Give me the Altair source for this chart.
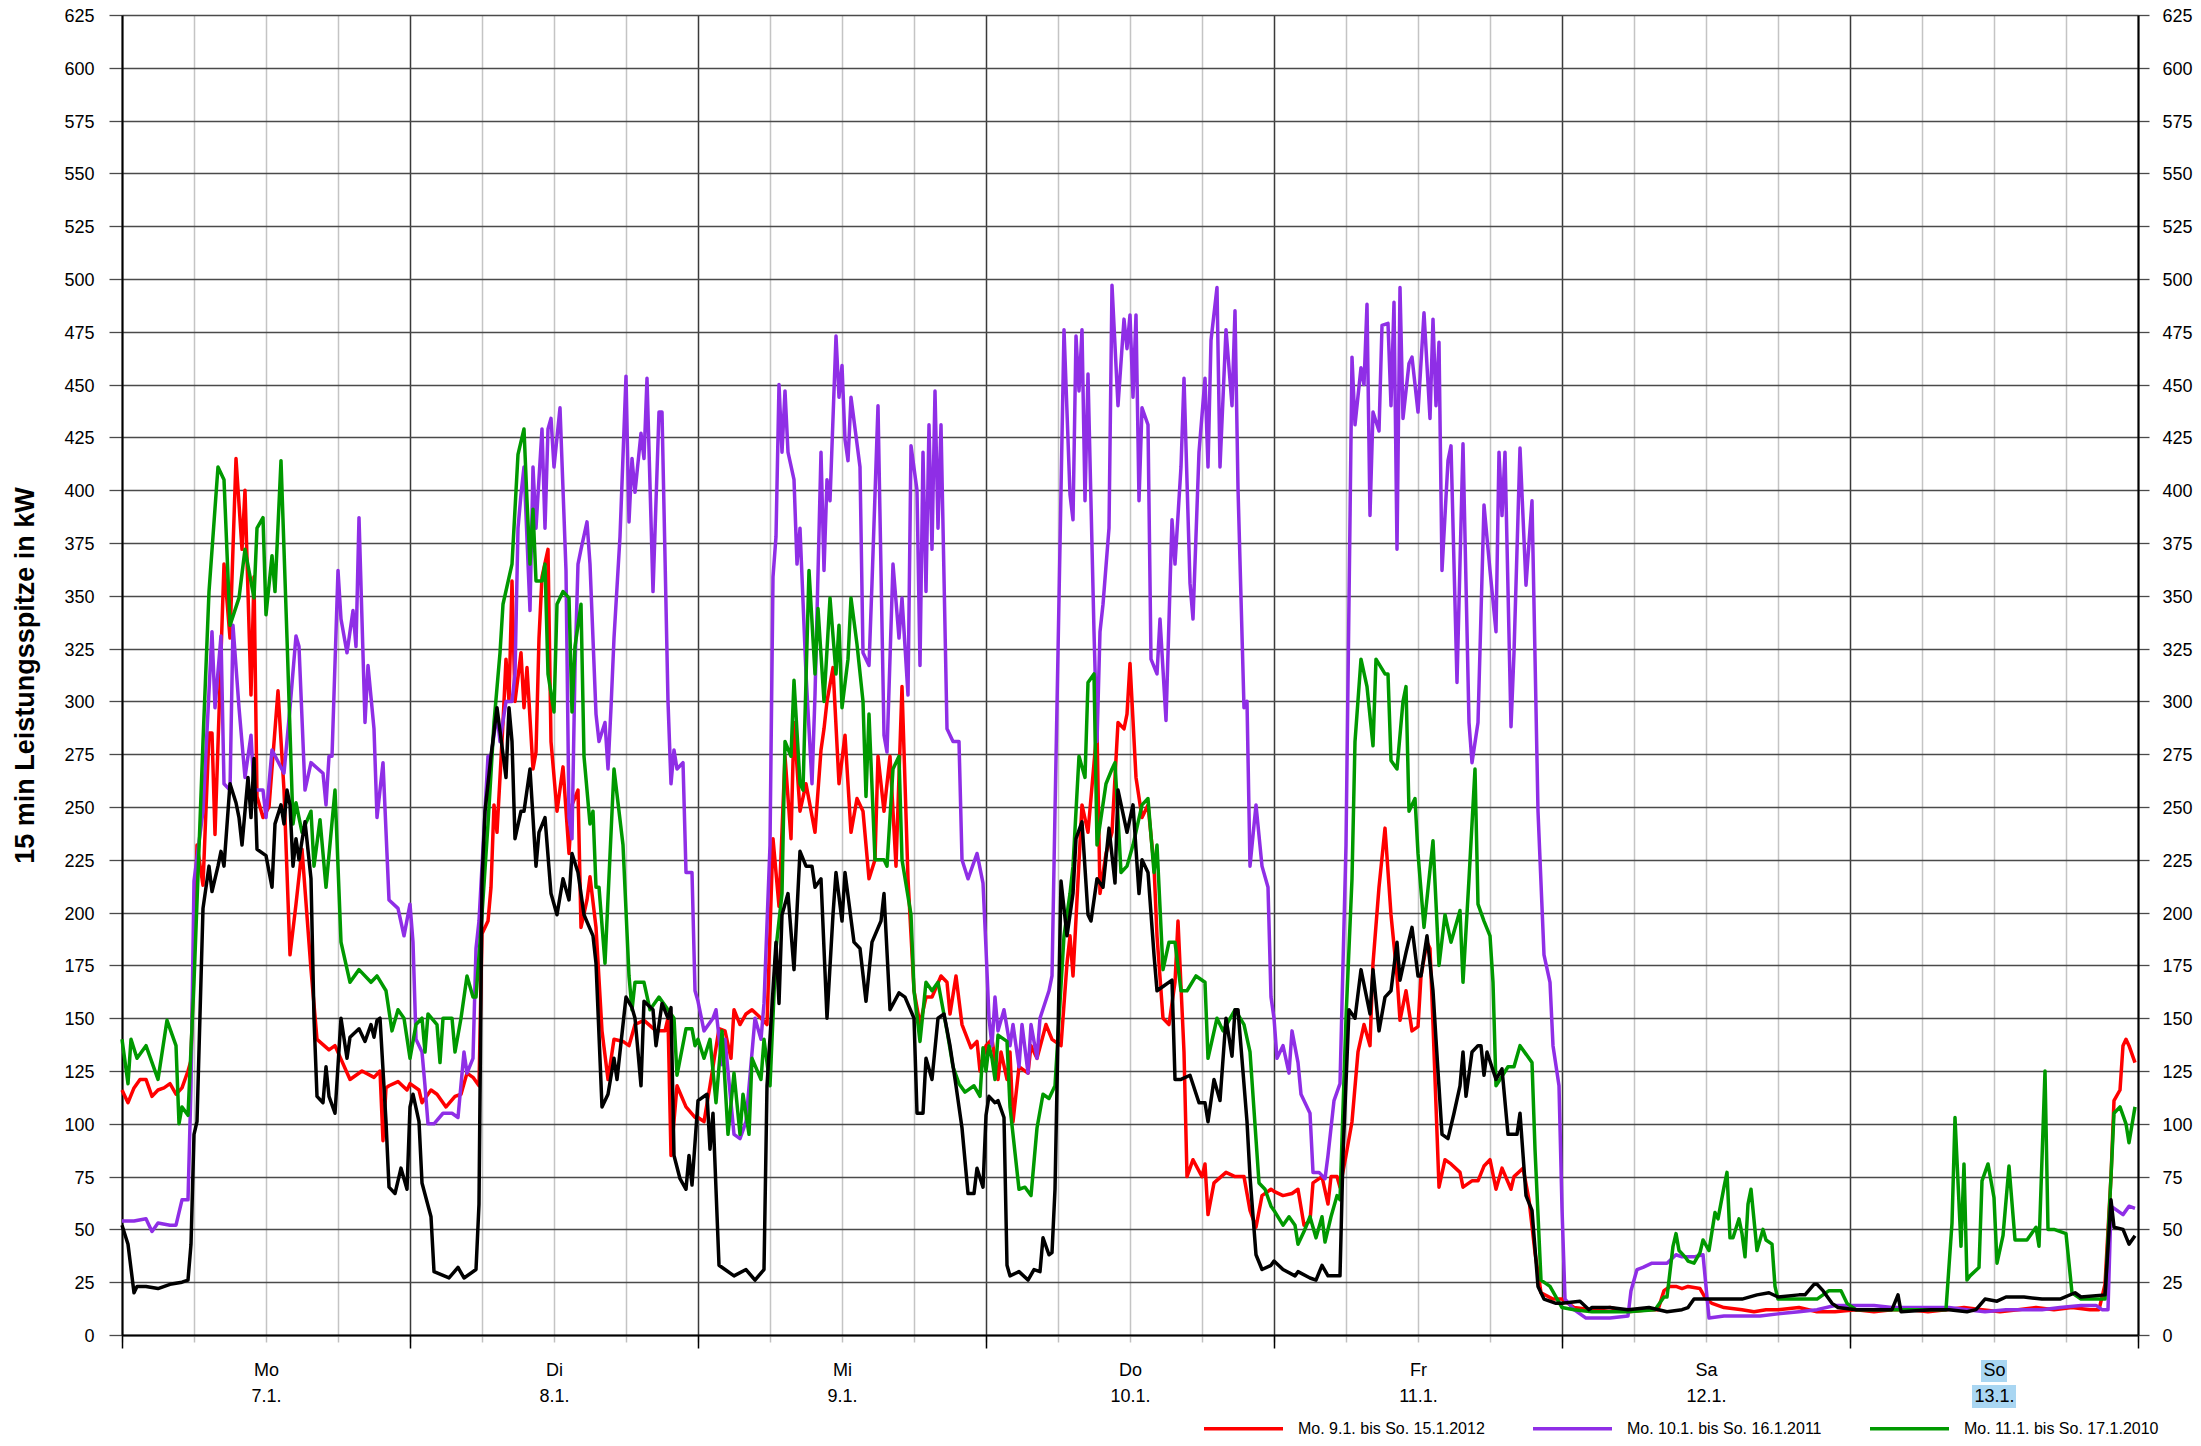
import json
import altair as alt
import pandas as pd

# ---------------- data: readings as (hour of day, kW) per day, Mo ... So ----------------
day_names = ["Mo", "Di", "Mi", "Do", "Fr", "Sa", "So"]
day_dates = ["7.1.", "8.1.", "9.1.", "10.1.", "11.1.", "12.1.", "13.1."]
highlight_day = 6

series_names = [
    "Mo. 9.1. bis So. 15.1.2012",
    "Mo. 10.1. bis So. 16.1.2011",
    "Mo. 11.1. bis So. 17.1.2010",
    "Mo. 7.1. bis So. 13.1.2013",
]
series_colors = ["#ff0000", "#8f2ee6", "#009900", "#000000"]

red_2012 = [
    [(0,116),(0.5,110),(1,117),(1.5,121),(2,121),(2.5,113),(3,116),(3.5,117),(4,119),(4.5,114),(5,117),(5.5,125),(5.75,130),(6.25,232),(6.75,213),(7.25,285),(7.5,285),(7.75,237),(8.5,365),(9,330),(9.5,415),(10,372),(10.25,400),(10.75,303),(11,359),(11.25,255),(11.75,245),(12.25,250),(13,305),(13.5,258),(14,180),(14.5,204),(15,230),(15.75,173),(16.25,140),(17.25,135),(17.75,137),(19,121),(20,125),(21,122),(21.5,125),(21.75,92),(22,117),(22.25,118),(23,120),(23.75,116)],
    [(0,119),(0.75,116),(1,110),(1.75,116),(2.25,114),(3,108),(3.75,113),(4.25,114),(4.75,124),(5.25,122),(5.75,118),(6,190),(6.5,196),(6.75,212),(7,251),(7.25,238),(7.75,290),(8,320),(8.25,300),(8.5,357),(8.75,300),(9.25,323),(9.5,297),(9.75,316),(10.25,268),(10.5,276),(10.75,330),(11,359),(11.5,372),(11.75,281),(12.25,248),(12.75,269),(13.25,228),(13.5,251),(14,258),(14.25,193),(14.75,206),(15,217),(15.5,193),(16,144),(16.5,121),(17,140),(17.75,139),(18.25,137),(18.75,147),(19.5,149),(20.5,144),(21.25,144),(21.5,150),(21.75,85),(22.25,118),(23,108),(23.75,103)],
    [(0,103),(0.5,101),(1,118),(1.75,145),(2.25,144),(2.75,131),(3,154),(3.5,147),(4,152),(4.5,154),(5.25,150),(5.75,147),(6.25,235),(6.75,203),(7.25,274),(7.75,235),(8,290),(8.5,248),(9,261),(9.75,238),(10.25,277),(10.5,287),(10.75,300),(11.25,316),(11.75,261),(12.25,284),(12.75,238),(13.25,254),(13.75,248),(14.25,216),(14.75,225),(15,274),(15.5,248),(16,274),(16.5,222),(17,307),(17.5,216),(18,163),(18.5,147),(19,160),(19.5,160),(20.25,170),(20.75,167),(21,152),(21.5,170),(22,147),(22.75,136),(23.25,139),(23.5,125)],
    [(0,137),(0.5,140),(1,121),(1.25,134),(1.75,121),(2,134),(2.25,101),(2.75,127),(3.5,124),(3.75,137),(4.25,131),(5,147),(5.5,140),(6.25,137),(6.75,176),(7,189),(7.25,170),(8,251),(8.5,238),(9.25,287),(9.5,209),(10,228),(10.5,238),(11,290),(11.5,287),(11.75,294),(12,318),(12.5,264),(13,245),(13.5,251),(14,222),(14.25,189),(14.75,150),(15.25,147),(15.75,167),(16,196),(16.5,134),(16.75,75),(17.25,83),(18,75),(18.25,81),(18.5,57),(19,72),(20,77),(20.75,75),(21.5,75),(22,59),(22.5,51),(23,66),(23.75,69)],
    [(0,68),(0.75,66),(1.5,67),(2,69),(2.5,52),(3,54),(3.25,72),(4,75),(4.5,62),(4.75,75),(5.25,75),(5.5,70),(6,85),(6.5,101),(7,134),(7.5,147),(8,137),(8.25,176),(8.75,212),(9.25,240),(9.75,199),(10.25,170),(10.5,149),(11,163),(11.5,144),(12,146),(12.25,170),(12.75,186),(13,183),(13.25,147),(13.75,70),(14.25,83),(14.75,81),(15.5,77),(15.75,70),(16.5,73),(17,73),(17.5,80),(18,83),(18.5,69),(19,79),(19.75,69),(20,75),(20.75,79),(21.25,64),(21.75,39),(22.25,20),(23.25,17)],
    [(0,17),(1,13),(2.5,12),(4,13),(5.5,11),(7.25,12),(8,12),(8.5,21),(9,23),(9.5,23),(10,22),(10.5,23),(11.5,22),(12,17),(12.5,15),(13.5,13),(15,12),(16,11),(17,12),(18,12),(19.75,13),(21.25,11),(22.75,11)],
    [(0.5,12),(2,11),(3.5,12),(5,12),(6.5,11),(8,12),(9.5,13),(11,12),(12.5,11),(14,12),(15.5,13),(17,12),(18.5,13),(20,12),(20.75,12),(21.25,24),(21.75,75),(22,111),(22.5,116),(22.75,137),(23,140),(23.25,137),(23.75,129)],
]
purple_2011 = [
    [(0,54),(1,54),(2,55),(2.25,52),(2.5,49),(3,53),(4,52),(4.5,52),(5,64),(5.5,64),(5.75,118),(6,215),(6.75,248),(7.5,333),(7.75,297),(8.25,331),(8.5,261),(9,258),(9.25,336),(9.75,297),(10.25,264),(10.75,284),(11,258),(11.75,258),(12,245),(12.5,277),(13.5,266),(14,297),(14.5,331),(14.75,326),(15.25,258),(15.75,271),(16.75,266),(17,251),(17.25,274),(17.5,274),(18,362),(18.25,339),(18.75,323),(19.25,343),(19.5,326),(19.75,387),(20.25,290),(20.5,317),(21,287),(21.25,245),(21.75,271),(22.25,206),(23,202),(23.5,189)],
    [(0,204),(0.25,186),(0.5,140),(1,134),(1.25,118),(1.5,100),(2,100),(2.75,105),(3.5,105),(4,103),(4.5,134),(4.75,124),(5.25,131),(5.5,183),(5.75,196),(6.5,274),(6.75,274),(7.25,294),(7.5,281),(8,300),(8.5,300),(8.75,313),(9,382),(9.25,398),(9.5,411),(10,343),(10.25,411),(10.5,382),(11,429),(11.25,382),(11.5,429),(11.75,434),(12,411),(12.5,439),(13,362),(13.25,245),(13.5,235),(13.75,316),(14,365),(14.25,372),(14.75,385),(15,365),(15.5,294),(15.75,281),(16.25,290),(16.5,268),(16.75,297),(17,330),(17.5,378),(18,454),(18.25,385),(18.5,415),(18.75,399),(19.25,427),(19.5,415),(19.75,453),(20.25,352),(20.75,437),(21,437),(21.5,300),(21.75,261),(22,277),(22.25,268),(22.75,271),(23,219),(23.5,219),(23.75,163)],
    [(0,158),(0.5,144),(1.25,150),(1.5,154),(2,128),(2.25,140),(3,95),(3.5,93),(4,101),(4.75,150),(5.25,140),(5.5,157),(6,232),(6.25,359),(6.5,378),(6.75,450),(7,418),(7.25,447),(7.5,418),(8,405),(8.25,365),(8.5,382),(9,313),(9.5,261),(9.75,303),(10.25,418),(10.5,362),(10.75,405),(11,395),(11.5,473),(11.75,444),(12,459),(12.25,424),(12.5,414),(12.75,444),(13.5,411),(13.75,323),(14.25,317),(14.5,356),(15,440),(15.5,284),(15.75,276),(16.25,365),(16.75,330),(17,349),(17.5,303),(17.75,421),(18.25,400),(18.5,317),(18.75,418),(19,352),(19.25,431),(19.5,372),(19.75,447),(20,382),(20.25,431),(20.75,287),(21.25,281),(21.75,281),(22,225),(22.5,216),(23.25,228),(23.75,214)],
    [(0,183),(0.25,150),(0.5,137),(0.75,160),(1,144),(1.5,154),(2,137),(2.25,147),(2.75,127),(3,147),(3.5,124),(3.75,147),(4.25,131),(4.5,150),(5.25,163),(5.5,170),(5.75,248),(6,323),(6.5,476),(7,398),(7.25,386),(7.5,473),(7.75,447),(8,476),(8.25,395),(8.5,455),(9,333),(9.25,281),(9.5,333),(9.75,346),(10.25,382),(10.5,497),(11,440),(11.5,481),(11.75,467),(12,483),(12.25,444),(12.5,483),(12.75,395),(13,439),(13.5,431),(13.75,320),(14.25,313),(14.5,339),(15,291),(15.5,386),(15.75,365),(16.25,411),(16.5,453),(17,356),(17.25,339),(17.75,418),(18.25,453),(18.5,411),(18.75,471),(19.25,496),(19.5,411),(20,476),(20.5,440),(20.75,485),(21,401),(21.5,297),(21.75,300),(22,222),(22.5,251),(23,222),(23.5,212),(23.75,160)],
    [(0,150),(0.25,131),(0.75,137),(1.25,124),(1.5,144),(2,129),(2.25,114),(3,105),(3.25,77),(3.75,77),(4.25,74),(4.5,85),(5,111),(5.5,119),(6,232),(6.5,463),(6.75,431),(7.25,458),(7.5,450),(7.75,488),(8,388),(8.25,437),(8.75,428),(9,478),(9.5,479),(9.75,440),(10,489),(10.25,372),(10.5,496),(10.75,434),(11.25,460),(11.5,463),(12,437),(12.5,484),(13,434),(13.25,481),(13.5,440),(13.75,470),(14,362),(14.5,414),(14.75,421),(15.25,309),(15.75,422),(16.25,290),(16.5,271),(17,290),(17.5,393),(18,362),(18.5,333),(18.75,418),(19,388),(19.25,418),(19.75,288),(20,323),(20.5,420),(21,355),(21.5,395),(22,248),(22.5,180),(23,167),(23.25,137),(23.75,118)],
    [(0,60),(0.25,17),(1,12),(2,8),(4,8),(5.5,9),(5.75,21),(6.25,31),(6.75,32),(7.5,34),(8.75,34),(9.5,38),(10,37),(11,37),(11.75,38),(12.25,8),(13.5,9),(15,9),(16.5,9),(18,10),(19.75,11),(21.25,12),(22.75,14)],
    [(0.5,14),(2,14),(3.5,13),(5,13),(6.75,13),(8.25,13),(9.75,12),(11.25,11),(13,12),(16,12),(17.5,13),(19.25,14),(20.5,14),(21,12),(21.5,12),(21.75,61),(22.25,59),(22.75,57),(23.25,61),(23.75,60)],
]
green_2010 = [
    [(0,140),(0.5,119),(0.75,140),(1.25,131),(2,137),(3,121),(3.75,149),(4.5,137),(4.75,100),(5,108),(5.5,104),(6,167),(6.75,281),(7.25,352),(8,411),(8.5,405),(9,336),(9.75,349),(10.25,372),(11,349),(11.25,382),(11.75,387),(12,341),(12.5,369),(12.75,352),(13.25,414),(13.75,330),(14.25,242),(14.5,252),(15,238),(15.75,248),(16,222),(16.5,244),(17,212),(17.75,258),(18.25,186),(19,167),(19.75,173),(20.75,167),(21.25,170),(22,163),(22.5,144),(23,154),(23.5,150)],
    [(0,131),(0.5,147),(1,150),(1.25,134),(1.5,152),(2.25,147),(2.5,129),(2.75,150),(3.5,150),(3.75,134),(4.25,150),(4.75,170),(5.25,160),(5.5,160),(6,199),(6.5,242),(7,290),(7.5,323),(7.75,346),(8.5,365),(9,417),(9.5,429),(9.75,395),(10,365),(10.25,391),(10.5,357),(11,357),(11.25,365),(11.5,313),(12,295),(12.25,346),(12.75,352),(13.25,349),(13.5,295),(13.75,326),(14.25,346),(14.5,274),(15,242),(15.25,248),(15.5,212),(15.75,212),(16.25,176),(17,268),(17.75,232),(18.25,170),(18.5,154),(18.75,167),(19.5,167),(20,154),(20.75,160),(21.5,154),(22,150),(22.25,123),(23,145),(23.5,145),(23.75,137)],
    [(0,140),(0.5,131),(1,140),(1.5,110),(2,144),(2.5,95),(3,124),(3.5,95),(3.75,114),(4.25,95),(4.5,131),(5.25,121),(5.5,140),(6,118),(6.5,183),(7,209),(7.25,281),(7.75,274),(8,310),(8.5,261),(8.75,258),(9.25,362),(9.75,313),(10,344),(10.5,300),(11,349),(11.5,313),(11.75,336),(12,297),(12.5,320),(12.75,349),(13.25,327),(13.75,300),(14,255),(14.25,294),(14.75,225),(15.5,225),(15.75,222),(16.25,268),(16.75,274),(17,225),(17.75,199),(18,163),(18.5,139),(19,167),(19.5,163),(20,167),(20.75,144),(21.25,127),(21.75,119),(22.25,115),(23,118),(23.5,113),(23.75,136)],
    [(0,125),(0.25,137),(0.5,131),(0.75,121),(1,142),(1.75,139),(2,108),(2.75,69),(3.25,70),(3.75,66),(4.25,98),(4.75,114),(5.25,112),(5.75,118),(6.5,189),(7,209),(7.25,222),(7.75,274),(8.25,264),(8.5,309),(9,313),(9.25,232),(10,261),(10.5,268),(10.75,271),(11.25,219),(11.75,222),(12.25,232),(13,251),(13.5,254),(14,219),(14.25,232),(14.75,173),(15.25,186),(15.75,186),(16.25,163),(16.75,163),(17.5,170),(18.25,167),(18.5,131),(19.25,150),(19.75,144),(20.75,154),(21.5,147),(22,134),(22.75,72),(23.25,69),(23.75,61)],
    [(0,59),(0.75,52),(1.25,56),(1.75,52),(2,43),(2.5,49),(3,56),(3.5,46),(4,56),(4.25,44),(4.75,56),(5.25,66),(5.5,64),(6,150),(6.5,216),(6.75,281),(7.25,320),(7.75,307),(8.25,279),(8.5,320),(9.25,313),(9.5,313),(9.75,272),(10.25,268),(10.75,300),(11,307),(11.25,248),(11.75,254),(12,228),(12.5,193),(13.25,234),(13.75,175),(14.25,199),(14.75,186),(15.5,201),(15.75,167),(16.25,216),(16.75,268),(17,204),(17.5,196),(18,189),(18.25,167),(18.5,118),(19.5,127),(20,127),(20.5,137),(21.5,129),(21.75,88),(22.25,26),(23,23)],
    [(0,13),(1,12),(2.5,11),(5.5,11),(7.75,12),(8.5,18),(8.75,18),(9.25,42),(9.5,48),(9.75,40),(10.25,37),(10.5,35),(11,34),(11.5,39),(11.75,45),(12.25,40),(12.75,58),(13,55),(13.5,70),(13.75,77),(14,46),(14.25,46),(14.75,55),(15,48),(15.25,37),(15.5,62),(15.75,69),(16.25,40),(16.75,50),(17,45),(17.5,43),(17.75,23),(18,17),(19.75,17),(21.25,17),(22.25,21),(23.25,21),(23.75,15)],
    [(0.5,12),(3,12),(6,12),(8,12),(8.5,53),(8.75,103),(9.25,42),(9.5,81),(9.75,26),(10,28),(10.75,32),(11,73),(11.5,81),(12,65),(12.25,34),(12.75,47),(13.25,80),(13.75,45),(14.75,45),(15.5,51),(15.75,42),(16.25,125),(16.5,50),(17,50),(18,48),(18.5,20),(19.25,17),(21.25,17),(21.75,75),(22,105),(22.5,108),(23,100),(23.25,91),(23.75,108)],
]
black_2013 = [
    [(0,52),(0.5,43),(1,20),(1.25,23),(2,23),(3,22),(4,24),(5,25),(5.5,26),(5.75,43),(6,95),(6.25,101),(6.75,202),(7.25,222),(7.5,210),(8,222),(8.25,229),(8.5,222),(9,261),(9.5,252),(9.75,245),(10,232),(10.5,264),(10.75,245),(11,273),(11.25,230),(12,227),(12.5,212),(12.75,242),(13.25,251),(13.5,242),(13.75,258),(14,251),(14.25,222),(14.5,235),(14.75,225),(15.25,243),(15.75,216),(16,150),(16.25,113),(16.75,110),(17,127),(17.25,113),(17.75,105),(18.25,150),(18.75,131),(19,141),(19.75,145),(20.25,139),(20.75,147),(21,141),(21.25,149),(21.5,150),(22,101),(22.25,70),(22.75,67),(23.25,79),(23.75,69)],
    [(0,108),(0.25,114),(0.75,101),(1,72),(1.75,56),(2,30),(3.25,27),(4,32),(4.5,27),(5.5,31),(5.75,62),(6,215),(6.25,248),(6.75,274),(7.25,297),(7.5,286),(8,264),(8.25,297),(8.5,281),(8.75,235),(9.25,248),(9.5,248),(10,268),(10.5,222),(10.75,238),(11.25,245),(11.75,209),(12.25,199),(12.75,216),(13.25,206),(13.5,228),(14,219),(14.5,199),(15.25,189),(15.5,176),(16,108),(16.5,114),(17,131),(17.25,121),(18,160),(18.5,155),(18.75,150),(19.25,118),(19.5,158),(20.25,154),(20.5,137),(21,157),(21.5,150),(21.75,155),(22,85),(22.5,74),(23,69),(23.25,85),(23.5,71)],
    [(0,111),(0.75,114),(1,88),(1.25,105),(1.75,33),(2.25,31),(3,28),(4,31),(4.75,26),(5.5,31),(5.75,118),(6.5,186),(6.75,157),(7,199),(7.5,209),(8,173),(8.5,229),(9,222),(9.5,222),(9.75,212),(10.25,216),(10.75,150),(11.25,199),(11.5,219),(12,196),(12.25,219),(13,186),(13.5,183),(14,158),(14.5,186),(15.25,196),(15.5,209),(16,154),(16.75,162),(17.25,160),(18,150),(18.25,105),(18.75,105),(19,131),(19.5,121),(20,150),(20.5,152),(21,137),(21.5,118),(22,98),(22.5,67),(23,67),(23.25,79),(23.75,70)],
    [(0,104),(0.25,113),(0.75,110),(1,111),(1.5,103),(1.75,33),(2,28),(2.75,30),(3.5,26),(4,31),(4.5,30),(4.75,46),(5.25,38),(5.5,39),(5.75,69),(6.25,215),(6.75,189),(7.25,209),(7.5,235),(8,243),(8.5,199),(8.75,196),(9.25,216),(9.75,212),(10.25,240),(10.75,214),(11,258),(11.75,238),(12.25,251),(12.75,209),(13,225),(13.5,219),(14,180),(14.25,163),(14.75,165),(15.5,168),(15.75,121),(16.25,121),(17,123),(17.75,110),(18.25,110),(18.5,101),(19,121),(19.5,111),(20,150),(20.5,132),(20.75,154),(21,154),(21.75,101),(22,75),(22.5,38),(23,31),(23.75,33)],
    [(0,35),(0.75,31),(1.75,28),(2,30),(3,27),(3.5,26),(4,33),(4.5,28),(5.5,28),(5.75,85),(6.25,154),(6.75,150),(7.25,173),(8,152),(8.25,173),(8.75,144),(9.25,160),(9.75,163),(10.25,186),(10.5,168),(11,181),(11.5,193),(12,170),(12.25,170),(12.75,189),(13.25,163),(13.5,140),(14,95),(14.5,93),(15,105),(15.5,118),(15.75,134),(16,113),(16.5,134),(17,137),(17.25,137),(17.5,123),(17.75,134),(18.5,121),(19,126),(19.5,95),(20.25,95),(20.5,105),(21,66),(21.5,59),(22,23),(22.5,17),(23.5,15)],
    [(0,15),(1.5,16),(2.25,12),(2.5,13),(4,13),(5.5,12),(7.25,13),(8.75,11),(10,12),(10.5,13),(11,17),(12,17),(13,17),(13.75,17),(15,17),(16.25,19),(17.25,20),(18,18),(19.75,19),(20.25,19),(21,24),(21.25,24),(21.75,21),(22.5,15),(23,13)],
    [(0.5,12),(2,12),(3.5,12),(4,19),(4.25,11),(6.75,12),(8.25,12),(9.75,11),(10.5,12),(11.25,17),(12.25,16),(13,18),(14.5,18),(16,17),(17.5,17),(18.75,20),(19.25,18),(21.25,19),(21.75,64),(22,51),(22.75,50),(23.25,43),(23.75,47)],
]

all_series = [red_2012, purple_2011, green_2010, black_2013]
rows = []
for name, days in zip(series_names, all_series):
    for d, readings in enumerate(days):
        for h, v in readings:
            rows.append({"hour": d * 24 + h, "value": v, "series": name})
df = pd.DataFrame(rows)

FONT = "Liberation Sans, Arial, sans-serif"
W, H = 2016, 1320

x_scale = alt.Scale(domain=[0, 168], nice=False, zero=False)
y_scale = alt.Scale(domain=[0, 625], nice=False, zero=True)
y_values = list(range(0, 626, 25))

legend = alt.Legend(
    orient="none", legendX=1080, legendY=1372, direction="horizontal", title=None,
    values=series_names[:3], symbolType="stroke", symbolSize=6241, symbolStrokeWidth=3.5,
    labelFontSize=16, labelFont=FONT, labelColor="black", labelOffset=13,
    columnPadding=41, padding=0, labelLimit=0,
)
color = alt.Color("series:N", scale=alt.Scale(domain=series_names, range=series_colors), legend=legend)

grid_x_axis = alt.Axis(
    orient="bottom", values=list(range(0, 169, 6)), grid=True, labels=False, domain=False,
    ticks=True, tickSize=7, tickColor="#c0c0c0", tickWidth=1.5, title=None, zindex=0,
    gridColor={"condition": {"test": "datum.value % 24 === 0", "value": "#3a3a3a"}, "value": "#c4c4c4"},
    gridWidth=1.5,
)
days_js = json.dumps(day_names)
dates_js = json.dumps(day_dates)
label_expr = (
    f"datum.value % 24 === 12 ? [{days_js}[floor(datum.value / 24)], "
    f"{dates_js}[floor(datum.value / 24)]] : ''"
)
label_x_axis = alt.Axis(
    orient="bottom", values=list(range(0, 169, 12)), grid=False, domain=True,
    domainColor="black", domainWidth=2, ticks=True, tickSize=13, tickWidth=1.5,
    tickColor="black",
    tickOpacity={"condition": {"test": "datum.value % 24 === 0", "value": 1}, "value": 0},
    labelExpr=label_expr, labelFont=FONT, labelFontSize=18, labelColor="black",
    labelBaseline="top", labelPadding=13, labelLineHeight=26, labelOverlap=False,
    labelBound=False, labelFlush=False, title=None, zindex=1,
)
left_y_axis = alt.Axis(
    orient="left", values=y_values, grid=True, gridColor="#4a4a4a", gridWidth=1.3,
    domain=True, domainColor="black", domainWidth=2, ticks=True, tickSize=13,
    tickColor="#4a4a4a", tickWidth=1.3, labelFont=FONT, labelFontSize=18,
    labelColor="black", labelPadding=15, labelOffset=1.5,
    title="15 min Leistungsspitze in kW",
    titleFont=FONT, titleFontSize=27, titleFontWeight="bold", titleColor="black",
    titlePadding=24, zindex=0,
)
right_y_axis = alt.Axis(
    orient="right", values=y_values, grid=False, domain=True, domainColor="black",
    domainWidth=2, ticks=True, tickSize=11, tickColor="#4a4a4a", tickWidth=1.3,
    labelFont=FONT, labelFontSize=18, labelColor="black", labelPadding=13,
    labelOffset=1.5, title=None, zindex=1,
)


def line_layer(idx, x_axis, y_axis):
    name = series_names[idx]
    return (
        alt.Chart(df)
        .transform_filter(alt.datum.series == name)
        .mark_line(strokeWidth=3.5, strokeJoin="round")
        .encode(
            x=alt.X("hour:Q", scale=x_scale, axis=x_axis),
            y=alt.Y("value:Q", scale=y_scale, axis=y_axis),
            color=color,
            order="hour:Q",
        )
    )


hl = pd.DataFrame({"hour": [highlight_day * 24 + 12]})
hl_day = alt.Chart(hl).mark_rect(width=26, height=22, color="#a9d6f2").encode(
    x=alt.X("hour:Q", scale=x_scale, axis=None),
    y=alt.value(1356),
)
hl_date = alt.Chart(hl).mark_rect(width=44, height=23, color="#a9d6f2").encode(
    x=alt.X("hour:Q", scale=x_scale, axis=None),
    y=alt.value(1381.5),
)

chart = (
    alt.layer(
        line_layer(0, grid_x_axis, left_y_axis),
        line_layer(1, None, None),
        line_layer(2, None, None),
        line_layer(3, label_x_axis, right_y_axis),
        hl_day,
        hl_date,
    )
    .resolve_scale(x="independent", y="independent")
    .properties(
        width=W, height=H,
        autosize=alt.AutoSizeParams(type="none"),
        padding={"left": 114, "top": 7, "right": 55, "bottom": 103},
        background="white",
    )
    .configure_view(stroke=None)
)

chart.save("out.html", embed_options={"renderer": "svg", "actions": False})
